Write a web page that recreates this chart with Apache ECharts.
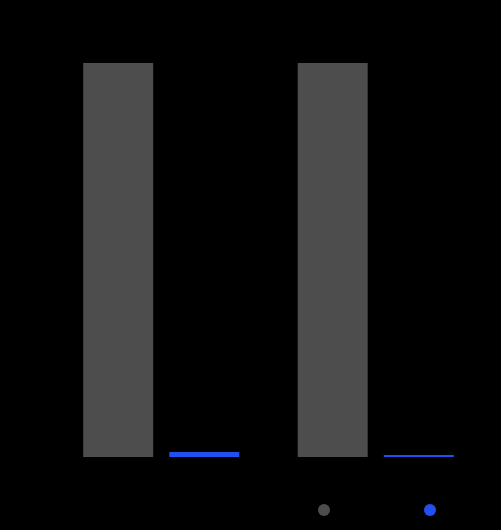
<!DOCTYPE html>
<html>
<head>
<meta charset="utf-8">
<script src="https://cdn.jsdelivr.net/npm/echarts@6/dist/echarts.min.js"></script>
<style>
html,body{margin:0;padding:0;background:#000;}
#chart{width:501px;height:530px;}
</style>
</head>
<body>
<div id="chart"></div>
<script>
var categories = ['Group A', 'Group B'];
var seriesNames = ['Baseline', 'Observed'];
var baselineValues = [100, 100];
var observedValues = [1.3, 0.5];

var chart = echarts.init(document.getElementById('chart'));
chart.setOption({
  backgroundColor: '#000000',
  animation: false,
  textStyle: { fontFamily: 'Noto Sans', color: '#000' },
  grid: { left: 54, right: 18, top: 63, bottom: 73, containLabel: false },
  legend: [
    {
      data: [seriesNames[0]], left: 313, top: 499, icon: 'circle',
      itemWidth: 12, itemHeight: 12,
      textStyle: { color: '#000', fontSize: 12 }
    },
    {
      data: [seriesNames[1]], left: 419, top: 499, icon: 'circle',
      itemWidth: 12, itemHeight: 12,
      textStyle: { color: '#000', fontSize: 12 }
    }
  ],
  xAxis: {
    type: 'category',
    data: categories,
    axisLine: { show: false },
    axisTick: { show: false },
    axisLabel: { color: '#000' }
  },
  yAxis: {
    type: 'value',
    min: 0,
    max: 100,
    splitLine: { show: false },
    axisLine: { show: false },
    axisTick: { show: false },
    axisLabel: { color: '#000' }
  },
  series: [
    {
      name: seriesNames[0], type: 'bar', data: baselineValues,
      barWidth: 70, barGap: '23%',
      itemStyle: { color: '#4d4d4d' }
    },
    {
      name: seriesNames[1], type: 'bar', data: observedValues,
      barWidth: 70,
      itemStyle: { color: '#2150f0' }
    }
  ]
});
</script>
</body>
</html>
